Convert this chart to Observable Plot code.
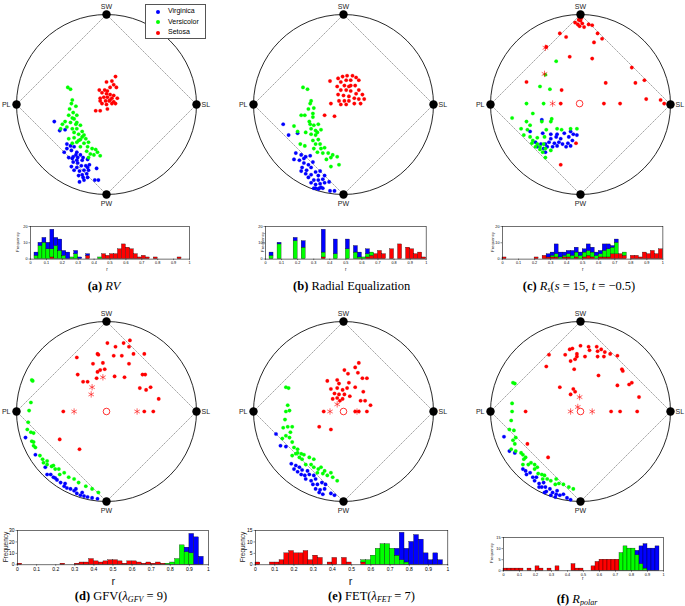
<!DOCTYPE html>
<html><head><meta charset="utf-8">
<script src="https://cdn.jsdelivr.net/npm/d3@7"></script>
<script src="https://cdn.jsdelivr.net/npm/@observablehq/plot@0.6"></script>
<style>
body{margin:0;background:#fff;}
#root{position:relative;width:685px;height:606px;overflow:hidden;font-family:"Liberation Sans",Arial,sans-serif;background:#fff;}
#root svg{overflow:visible;position:absolute;background:transparent;}
.lab{position:absolute;white-space:nowrap;transform:translate(-50%,-50%);font-family:"Liberation Sans",Arial,sans-serif;color:#222;}
#root .cap{position:absolute;white-space:nowrap;transform:translate(-50%,-50%);font-family:"Liberation Serif","Times New Roman","DejaVu Serif",serif;font-size:12.5px;color:#000;}
.cap sub{font-size:8px;vertical-align:-2px;}
.legend{position:absolute;border:0.8px solid #555;background:#fff;font-size:7px;}
.legend div{position:absolute;white-space:nowrap;}
.legend span.dot{position:absolute;width:4px;height:4px;border-radius:50%;}
</style></head><body><div id="root"></div>
<script>
// ---------- categories / labels ----------
const species = ["Setosa", "Versicolor", "Virginica"];       // stacking order, bottom -> top
const speciesColors = ["#ff0000", "#00ff00", "#0000ff"];
const legendNames = ["Virginica", "Versicolor", "Setosa"];
const legendColors = ["#0000ff", "#00ff00", "#ff0000"];
const anchorNames = ["SL", "SW", "PL", "PW"];
const anchorAngles = [0, 90, 180, 270];
const xTickValues = [0, 0.1, 0.2, 0.3, 0.4, 0.5, 0.6, 0.7, 0.8, 0.9, 1];
const binWidth = 0.025;

// ---------- scatter points (x, y in % of the circle radius) ----------
const aSetosa = [[10,31],[0,25],[6,26],[8,22],[4,19],[11,19],[-8,16],[-2,16],[1,15],[-5,13],[0,12],[4,11],[8,10],[-7,7],[-3,8],[1,8],[6,7],[12,7],[-7,4],[-1,4],[3,4],[8,3],[-5,1],[0,0],[6,1],[-12,-7],[-7,-7],[1,-5],[10,1],[4,5]];
const aVersicolor = [[-43,19],[-40,17],[-38,5],[-39,1],[-41,-5],[-34,-2],[-37,-9],[-42,-12],[-38,-15],[-36,-16],[-33,-12],[-49,-22],[-46,-19],[-40,-20],[-34,-22],[-29,-23],[-51,-27],[-38,-27],[-33,-27],[-27,-30],[-36,-31],[-31,-33],[-25,-34],[-42,-38],[-36,-37],[-29,-39],[-23,-38],[-38,-43],[-33,-42],[-25,-43],[-20,-42],[-29,-47],[-21,-47],[-16,-49],[-12,-50],[-22,-52],[-18,-55],[-10,-53],[-7,-57],[-14,-56],[-20,-59],[-31,-40],[-27,-36],[-33,-20],[-44,-25]];
const aVirginica = [[-58,-19],[-52,-29],[-46,-28],[-44,-44],[-40,-46],[-36,-47],[-47,-53],[-39,-51],[-33,-53],[-29,-56],[-42,-59],[-37,-58],[-32,-59],[-26,-59],[-37,-64],[-32,-65],[-27,-62],[-21,-61],[-39,-69],[-33,-70],[-28,-68],[-23,-68],[-19,-67],[-36,-73],[-30,-74],[-25,-73],[-20,-73],[-11,-71],[-27,-78],[-22,-77],[-26,-81],[-21,-81],[-30,-86],[-25,-84],[-13,-84],[-9,-84],[-33,-62],[-44,-49],[-38,-60],[-21,-70],[-31,-79],[-34,-56]];

const bSetosa = [[-15,26],[-6,29],[-1,31],[4,32],[10,32],[14,30],[17,27],[-3,25],[3,27],[8,27],[-7,20],[1,21],[6,20],[13,21],[17,16],[-3,16],[3,16],[8,15],[14,12],[21,11],[-6,11],[0,10],[6,9],[12,7],[17,6],[23,6],[-5,4],[1,4],[6,4],[12,1],[19,1],[-3,0],[3,0],[-14,1],[-21,-12],[-10,-13],[8,21]];
const bVersicolor = [[-45,19],[-40,17],[-36,4],[-37,1],[-39,-5],[-33,-4],[-43,-12],[-47,-12],[-34,-10],[-55,-24],[-51,-30],[-38,-19],[-37,-22],[-33,-23],[-28,-22],[-36,-27],[-31,-29],[-25,-28],[-42,-31],[-36,-33],[-31,-34],[-34,-40],[-28,-39],[-48,-44],[-43,-46],[-31,-44],[-26,-44],[-25,-49],[-21,-48],[-29,-53],[-23,-54],[-17,-54],[-12,-56],[-14,-59],[-7,-58],[-19,-61],[-14,-69],[-5,-67],[-33,-49],[-29,-31],[-34,-14]];
const bVirginica = [[-67,-22],[-61,-34],[-51,-32],[-53,-54],[-47,-56],[-42,-58],[-37,-57],[-55,-61],[-49,-62],[-44,-65],[-39,-67],[-46,-70],[-41,-73],[-36,-70],[-47,-74],[-42,-77],[-36,-78],[-31,-75],[-26,-74],[-28,-79],[-39,-81],[-33,-84],[-28,-84],[-23,-83],[-36,-87],[-31,-89],[-26,-88],[-21,-87],[-16,-86],[-33,-93],[-28,-94],[-23,-93],[-31,-93],[-27,-93],[-15,-96],[-10,-96],[-44,-60],[-34,-64],[-21,-79],[-25,-92]];

const cSetosa = [[-1,100],[1,99],[-1,97],[1,96],[-2,94],[0,93],[2,90],[-3,89],[-1,87],[4,86],[-6,91],[9,89],[13,88],[19,79],[24,73],[15,69],[-23,79],[-16,75],[-38,64],[-12,53],[13,51],[-60,25],[-21,16],[-22,1],[26,1],[44,1],[28,24],[61,24],[71,27],[57,41],[73,6],[89,5],[93,1],[98,1],[-5,-43],[-22,-67]];
const cSetosaStars = [[-39,63],[-40,34],[-31,1]];
const cSetosaCentre = [[-1,1]];
const cVersicolor = [[-27,48],[-39,33],[-45,20],[-34,17],[-60,1],[-41,1],[-53,-10],[-32,-16],[-76,-15],[-60,-19],[-43,-19],[-33,-19],[-66,-27],[-59,-28],[-56,-23],[-63,-34],[-56,-36],[-48,-37],[-40,-36],[-53,-40],[-54,-43],[-48,-44],[-41,-44],[-50,-47],[-45,-47],[-39,-49],[-33,-51],[-42,-53],[-39,-59],[-38,-28],[-26,-27],[-21,-28],[-11,-27],[-4,-27],[-45,-50]];
const cVirginica = [[-43,-17],[-56,-30],[-42,-32],[-33,-33],[-26,-33],[-18,-32],[-11,-30],[-8,-33],[-4,-34],[-50,-42],[-44,-44],[-39,-44],[-35,-42],[-29,-43],[-24,-42],[-20,-44],[-14,-43],[-9,-40],[-48,-47],[-41,-49],[-37,-47],[-31,-47],[-26,-46],[-16,-47],[-11,-46],[-39,-53],[-27,-36],[-13,-36],[-22,-38],[-33,-38]];

const dSetosa = [[1,76],[10,72],[19,76],[26,79],[25,72],[-10,64],[-9,63],[8,62],[17,62],[30,64],[42,64],[-33,60],[-15,53],[-4,54],[25,53],[-7,46],[-10,44],[-2,47],[-32,41],[9,39],[20,38],[40,41],[43,41],[-26,33],[-21,33],[-11,37],[49,27],[37,26],[44,24],[58,14],[-48,0],[42,0],[52,0],[-52,-31],[-30,-42]];
const dSetosaStars = [[-4,38],[-16,27],[-17,19],[-36,0],[34,0]];
const dSetosaCentre = [[0,0]];
const dVersicolor = [[-83,35],[-84,10],[-86,1],[-87,-12],[-88,-20],[-84,-23],[-81,-24],[-83,-33],[-81,-34],[-81,-38],[-79,-40],[-74,-49],[-71,-53],[-70,-57],[-66,-59],[-61,-61],[-57,-64],[-52,-70],[-59,-60],[-53,-64],[-47,-68],[-42,-73],[-36,-75],[-31,-79],[-23,-83],[-16,-86],[-9,-90],[-66,-55],[-82,34]];
const dVirginica = [[-90,-29],[-79,-48],[-68,-62],[-66,-70],[-62,-70],[-59,-73],[-55,-76],[-51,-79],[-47,-83],[-44,-85],[-40,-86],[-36,-88],[-33,-91],[-29,-93],[-25,-94],[-21,-95],[-16,-96],[-10,-97],[-27,-90],[-34,-86],[-46,-80],[-57,-74]];

const eSetosa = [[17,54],[1,46],[13,49],[5,42],[16,43],[-18,34],[-7,35],[-5,31],[6,32],[21,37],[26,37],[-14,25],[-7,26],[-1,24],[4,26],[13,27],[22,22],[-10,20],[-5,19],[1,19],[7,17],[19,12],[24,12],[30,7],[-12,14],[-7,15],[-1,14],[-22,0],[13,0],[17,0],[26,0],[-27,-17],[-14,-20],[-4,12]];
const eSetosaStars = [[-15,0],[-7,8],[15,0]];
const eSetosaCentre = [[0,0]];
const eVersicolor = [[-64,27],[-61,26],[-62,7],[-60,1],[-64,0],[-65,-9],[-67,-18],[-62,-17],[-57,-17],[-59,-23],[-64,-27],[-68,-30],[-60,-29],[-57,-34],[-55,-40],[-51,-42],[-53,-47],[-47,-47],[-44,-48],[-49,-51],[-46,-53],[-38,-51],[-42,-59],[-36,-59],[-33,-62],[-28,-64],[-29,-68],[-23,-69],[-18,-71],[-12,-73],[-7,-77],[-33,-53],[-25,-62],[-21,-66],[-14,-68],[-57,-49],[-51,-46]];
const eVirginica = [[-75,-25],[-70,-38],[-64,-39],[-58,-58],[-53,-60],[-49,-62],[-55,-64],[-51,-67],[-46,-65],[-47,-70],[-43,-71],[-38,-70],[-42,-75],[-36,-77],[-31,-75],[-34,-81],[-29,-81],[-24,-79],[-31,-86],[-26,-87],[-21,-86],[-27,-90],[-14,-91],[-10,-93],[-40,-66],[-33,-71],[-20,-81],[-23,-92]];

const fSetosa = [[-35,63],[-38,50],[-17,63],[-12,69],[-9,70],[-4,64],[0,73],[9,72],[10,68],[18,72],[23,69],[19,67],[27,66],[33,64],[41,62],[-11,56],[-6,58],[-4,61],[5,61],[19,61],[26,61],[-7,47],[20,40],[46,47],[47,45],[57,32],[54,30],[41,29],[-23,27],[-8,25],[-6,22],[-11,19],[65,16],[-61,0],[34,0],[44,0],[63,0],[-59,-36],[-36,-51]];
const fSetosaStars = [[-1,16],[-3,5],[-11,0],[13,0]];
const fSetosaCentre = [[0,0]];
const fVersicolor = [[-75,32],[-73,31],[-76,9],[-76,0],[-77,-10],[-79,-20],[-74,-21],[-72,-29],[-75,-32],[-73,-36],[-77,-42],[-72,-44],[-66,-46],[-64,-48],[-61,-51],[-55,-57],[-58,-59],[-64,-59],[-51,-59],[-48,-62],[-51,-64],[-47,-69],[-43,-70],[-40,-71],[-37,-75],[-33,-77],[-28,-81],[-24,-80],[-19,-81],[-13,-84],[-8,-86],[-63,-53],[-42,-75],[-27,-75]];
const fVirginica = [[-85,-28],[-79,-44],[-73,-46],[-64,-64],[-61,-66],[-56,-68],[-60,-70],[-53,-73],[-49,-73],[-51,-77],[-46,-80],[-41,-79],[-43,-84],[-39,-84],[-34,-86],[-38,-89],[-31,-90],[-27,-92],[-23,-93],[-19,-92],[-15,-96],[-11,-98],[-33,-93],[-28,-95],[-46,-84],[-40,-90],[-26,-88]];

// ---------- histogram counts (40 bins of width 0.025 on r in [0,1]) ----------
const aHistSetosa     = [0,0,0,0,0, 1,0,0,0,0, 0,0,0,0,2, 0,0,0,3,2, 3,3,6,9,7, 6,3,1,2,1, 0,1,0,0,0, 0,0,1,0,0];
const aHistVersicolor = [0,2,8,10,6, 5,8,5,2,0, 1,3,0,0,0, 0,0,1,0,0, 0,0,0,0,0, 0,0,0,0,0, 0,0,0,0,0, 0,0,0,0,0];
const aHistVirginica  = [0,2,2,3,4, 12,5,7,3,4, 0,2,1,0,1, 0,0,0,0,0, 0,0,0,0,0, 0,0,0,0,0, 0,0,0,0,0, 0,0,0,0,0];
const bHistSetosa     = [0,0,0,0,0, 0,0,0,0,0, 0,0,0,0,1, 0,0,0,0,0, 0,0,0,0,0, 1,2,3,5,3, 0,6,0,9,0, 7,6,3,4,1];
const bHistVersicolor = [0,2,0,9,0, 0,0,11,0,7, 0,0,0,0,3, 0,0,3,0,0, 6,0,4,1,1, 2,2,0,0,0, 0,0,0,0,0, 0,0,0,0,0];
const bHistVirginica  = [0,2,0,1,0, 0,0,2,0,4, 0,0,0,0,14, 0,0,9,0,0, 6,0,4,3,0, 3,0,0,0,0, 0,0,0,0,0, 0,0,0,0,0];
const cHistSetosa     = [1,0,0,0,0, 0,0,0,1,0, 2,1,1,1,0, 1,1,0,1,0, 1,2,1,0,1, 1,1,3,3,3, 2,0,2,2,1, 4,3,5,3,6];
const cHistVersicolor = [0,0,0,0,0, 0,0,0,0,0, 0,0,1,2,1, 1,2,2,3,2, 3,3,3,2,2, 4,5,4,7,0, 2,0,0,0,0, 0,0,0,0,0];
const cHistVirginica  = [0,0,0,0,0, 0,0,0,0,0, 0,2,2,6,3, 2,2,3,3,2, 2,4,3,2,2, 4,3,1,2,0, 0,0,0,0,0, 0,0,0,0,0];
const dHistSetosa     = [1,0,0,0,0, 0,0,0,0,1, 0,0,1,2,2, 5,3,2,3,4, 4,3,1,3,3, 2,1,2,1,2, 1,0,0,0,0, 0,0,0,0,0];
const dHistVersicolor = [0,0,0,0,0, 0,0,0,0,0, 0,0,0,0,0, 0,0,0,0,0, 0,0,0,0,0, 0,0,0,0,0, 0,1,2,5,17, 11,10,0,0,0];
const dHistVirginica  = [0,0,0,0,0, 0,0,0,0,0, 0,0,0,0,0, 0,0,0,0,0, 0,0,0,0,0, 0,0,0,0,0, 0,0,0,0,0, 4,17,24,7,0];
const eHistSetosa     = [1,0,0,1,1, 2,5,6,5,5, 6,2,4,3,0, 1,3,0,3,1, 0,0,1,0,0, 0,0,0,0,0, 0,0,0,0,0, 0,0,0,0,0];
const eHistVersicolor = [0,0,0,0,0, 0,0,0,0,0, 0,0,0,0,0, 0,0,0,0,0, 0,0,1,2,4, 7,9,9,7,4, 2,1,0,0,0, 0,0,0,0,0];
const eHistVirginica  = [0,0,0,0,0, 0,0,0,0,0, 0,0,0,0,0, 0,0,0,0,0, 0,0,0,0,0, 0,0,0,0,3, 12,6,10,13,11, 5,2,5,2,0];
const fHistSetosa     = [1,1,1,1,1, 0,1,0,2,1, 0,1,0,2,0, 0,0,3,1,1, 0,0,2,4,5, 5,5,5,5,0, 0,0,0,0,0, 0,0,0,0,0];
const fHistVersicolor = [0,0,0,0,0, 0,0,0,0,0, 0,0,0,0,0, 0,0,0,0,0, 0,0,0,0,0, 0,0,0,0,8, 11,10,10,7,3, 1,0,0,0,0];
const fHistVirginica  = [0,0,0,0,0, 0,0,0,0,0, 0,0,0,0,0, 0,0,0,0,0, 0,0,0,0,0, 0,0,0,0,0, 0,0,0,2,8, 11,10,10,11,0];

// ---------- captions ----------
const captions = [
  '<b>(a)</b> <i>RV</i>',
  '<b>(b)</b> Radial Equalization',
  '<b>(c)</b> <i>R<sub>s</sub></i>(<i>s</i> = 15, <i>t</i> = &minus;0.5)',
  '<b>(d)</b> GFV(<i>&lambda;<sub>GFV</sub></i> = 9)',
  '<b>(e)</b> FET(<i>&lambda;<sub>FET</sub></i> = 7)',
  '<b>(f)</b> <i>R<sub>polar</sub></i>'
];

// ---------- layout ----------
const root = document.getElementById("root");
const panels = [
  {cx:106,   cy:104,   pts:[aSetosa,aVersicolor,aVirginica], stars:[], centre:[],
   hist:{l:30, t:225.7, w:159, h:32.6, yMax:20, yTicks:[0,10,20], counts:[aHistSetosa,aHistVersicolor,aHistVirginica], fs:3.8, yl:[17,241.7,4.2], xl:[107,269,4.5]},
   cap:[104,286]},
  {cx:342.7, cy:104,   pts:[bSetosa,bVersicolor,bVirginica], stars:[], centre:[],
   hist:{l:265, t:225.7, w:160.7, h:32.6, yMax:20, yTicks:[0,10,20], counts:[bHistSetosa,bHistVersicolor,bHistVirginica], fs:3.8, yl:[262.3,241.7,4.2], xl:[345.7,269,4.5]},
   cap:[351.7,286]},
  {cx:579.7, cy:104,   pts:[cSetosa,cVersicolor,cVirginica], stars:cSetosaStars, centre:cSetosaCentre,
   hist:{l:502.3, t:225.7, w:160.4, h:32.6, yMax:20, yTicks:[0,10,20], counts:[cHistSetosa,cHistVersicolor,cHistVirginica], fs:3.8, yl:[492.3,241.7,4.2], xl:[582.7,269,4.5]},
   cap:[579,286]},
  {cx:106,   cy:410.7, pts:[dSetosa,dVersicolor,dVirginica], stars:dSetosaStars, centre:dSetosaCentre,
   hist:{l:17.3, t:530, w:191, h:34.3, yMax:30, yTicks:[0,10,20,30], counts:[dHistSetosa,dHistVersicolor,dHistVirginica], fs:5, yl:[5,546.7,6.5], xl:[113.3,581,11]},
   cap:[121,596]},
  {cx:342.7, cy:410.7, pts:[eSetosa,eVersicolor,eVirginica], stars:eSetosaStars, centre:eSetosaCentre,
   hist:{l:255, t:530, w:192.3, h:34.3, yMax:15, yTicks:[0,5,10,15], counts:[eHistSetosa,eHistVersicolor,eHistVirginica], fs:5, yl:[241.7,546.7,6.5], xl:[350.7,581,11]},
   cap:[371.5,596]},
  {cx:579.7, cy:410.7, pts:[fSetosa,fVersicolor,fVirginica], stars:fSetosaStars, centre:fSetosaCentre,
   hist:{l:502.7, t:536.7, w:160, h:33.3, yMax:15, yTicks:[0,5,10,15], counts:[fHistSetosa,fHistVersicolor,fHistVirginica], fs:3.8, yl:[490.7,553.3,4.2], xl:[582.7,578,4.5]},
   cap:[577,599]}
];

const S = 216, DOM = 1.2; // radviz svg size and domain half-width (radius 1 -> 90px)
const anchors = anchorNames.map((n, i) => ({name: n, x: Math.cos(anchorAngles[i] * Math.PI / 180), y: Math.sin(anchorAngles[i] * Math.PI / 180)}));

function place(el, left, top) { el.style.left = left + "px"; el.style.top = top + "px"; root.appendChild(el); }

function radviz(p) {
  const drawOrder = [2, 1, 0]; // Virginica, Versicolor, Setosa
  const marks = [
    Plot.dot([{x: 0, y: 0}], {x: "x", y: "y", r: S / (2 * DOM), stroke: "#111", strokeWidth: 0.9, fill: "none"}),
    Plot.line([...anchors, anchors[0]], {x: "x", y: "y", stroke: "#666", strokeWidth: 0.6, strokeDasharray: "1,1.4"})
  ];
  for (const k of drawOrder) {
    marks.push(Plot.dot(p.pts[k], {x: d => d[0] / 100, y: d => d[1] / 100, r: 1.8, fill: speciesColors[k], stroke: speciesColors[k], strokeWidth: 0.2}));
  }
  if (p.stars.length) marks.push(Plot.dot(p.stars, {x: d => d[0] / 100, y: d => d[1] / 100, symbol: "asterisk", r: 3, stroke: "#ff0000", strokeWidth: 0.6}));
  if (p.centre.length) marks.push(Plot.dot(p.centre, {x: d => d[0] / 100, y: d => d[1] / 100, r: 3.3, stroke: "#ff0000", fill: "white", strokeWidth: 0.8}));
  marks.push(Plot.dot(anchors, {x: "x", y: "y", r: 4.2, fill: "black"}));
  const tOpt = {x: "x", y: "y", text: "name", fontSize: 7, fill: "#222"};
  marks.push(Plot.text(anchors.filter(a => a.name === "SW"), {...tOpt, dy: -8}));
  marks.push(Plot.text(anchors.filter(a => a.name === "PW"), {...tOpt, dy: 9}));
  marks.push(Plot.text(anchors.filter(a => a.name === "PL"), {...tOpt, dx: -6, textAnchor: "end"}));
  marks.push(Plot.text(anchors.filter(a => a.name === "SL"), {...tOpt, dx: 5, textAnchor: "start"}));
  const svg = Plot.plot({
    width: S, height: S, margin: 0,
    x: {domain: [-DOM, DOM], axis: null},
    y: {domain: [-DOM, DOM], axis: null},
    style: {background: "transparent", fontFamily: "Liberation Sans, Arial, sans-serif", overflow: "visible"},
    marks
  });
  place(svg, p.cx - S / 2, p.cy - S / 2);
}

function histogram(p) {
  const h = p.hist;
  const rows = [];
  species.forEach((s, k) => h.counts[k].forEach((c, i) => { if (c > 0) rows.push({bin: i, species: s, count: c}); }));
  const svg = Plot.plot({
    width: h.w, height: h.h, margin: 0,
    x: {domain: [0, 1]},
    y: {domain: [0, h.yMax]},
    color: {domain: species, range: speciesColors},
    style: {background: "transparent", fontFamily: "Liberation Sans, Arial, sans-serif", overflow: "visible"},
    marks: [
      Plot.rectY(rows, {x1: d => d.bin * binWidth, x2: d => (d.bin + 1) * binWidth, y: "count", fill: "species", order: species, stroke: "#000", strokeWidth: 0.3}),
      Plot.frame({stroke: "#111", strokeWidth: 0.6}),
      Plot.axisX({ticks: xTickValues, tickFormat: d3.format("~g"), tickSize: 1.5, tickPadding: 1, fontSize: h.fs, label: null, stroke: "#111", strokeWidth: 0.5}),
      Plot.axisY({ticks: h.yTicks, tickFormat: d3.format("~g"), tickSize: 1.5, tickPadding: 1.5, fontSize: h.fs, label: null, stroke: "#111", strokeWidth: 0.5})
    ]
  });
  place(svg, h.l, h.t);
  const yl = document.createElement("div");
  yl.className = "lab"; yl.textContent = "Frequency";
  yl.style.fontSize = h.yl[2] + "px";
  yl.style.transform = "translate(-50%,-50%) rotate(-90deg)";
  place(yl, h.yl[0], h.yl[1]);
  const xl = document.createElement("div");
  xl.className = "lab"; xl.textContent = "r";
  xl.style.fontSize = h.xl[2] + "px";
  place(xl, h.xl[0], h.xl[1]);
}

panels.forEach((p, i) => {
  radviz(p);
  histogram(p);
  const c = document.createElement("div");
  c.className = "cap"; c.innerHTML = captions[i];
  place(c, p.cap[0], p.cap[1]);
});

// legend (panel a)
const lg = document.createElement("div");
lg.className = "legend";
lg.style.width = "59px"; lg.style.height = "33px";
legendNames.forEach((n, i) => {
  const d = document.createElement("span");
  d.className = "dot"; d.style.background = legendColors[i];
  d.style.left = "9.5px"; d.style.top = (4.7 + i * 10.5) + "px";
  lg.appendChild(d);
  const t = document.createElement("div");
  t.textContent = n; t.style.left = "22px"; t.style.top = (2.3 + i * 10.5) + "px";
  lg.appendChild(t);
});
place(lg, 145, 4);
</script>
</body></html>
